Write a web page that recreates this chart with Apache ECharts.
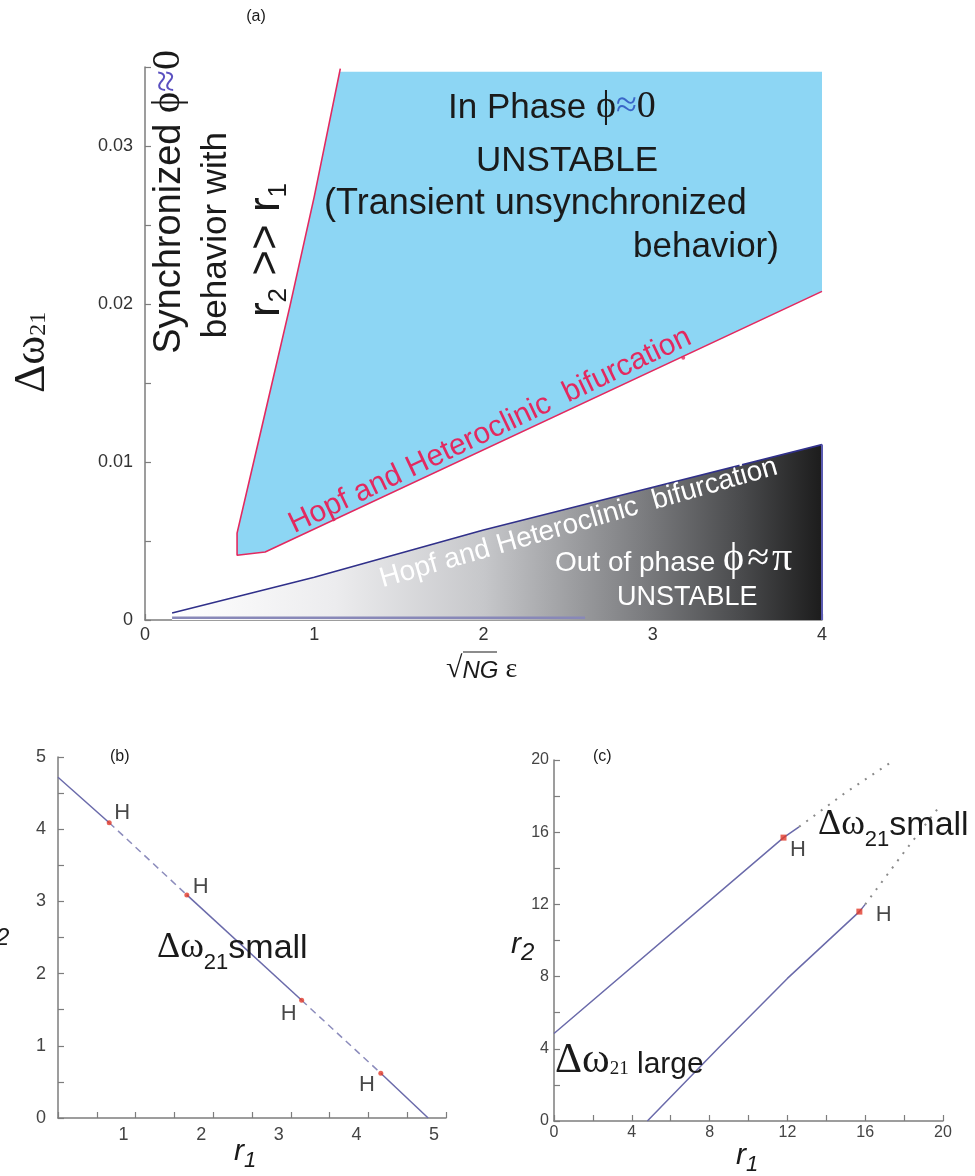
<!DOCTYPE html>
<html><head><meta charset="utf-8">
<script src="https://cdn.jsdelivr.net/npm/echarts@6/dist/echarts.min.js"></script>
<style>html,body{margin:0;padding:0;background:#fff}#c{width:975px;height:1176px}</style>
</head><body><div id="c"></div>
<script>
// ---------- DATA ----------
// Panel (a): in-phase unstable region (blue) polygon
const inPhaseX = [1.15, 4.0, 4.0, 0.71, 0.544, 0.544, 0.69, 0.855, 1.0];
const inPhaseY = [0.0347, 0.0347, 0.0208, 0.0043, 0.0041, 0.0055, 0.0122, 0.0198, 0.0268];
// Panel (a): red Hopf/heteroclinic boundary
const redBoundX = [1.154, 1.0, 0.855, 0.69, 0.544, 0.544, 0.71, 4.0];
const redBoundY = [0.0349, 0.0268, 0.0198, 0.0122, 0.0055, 0.0041, 0.0043, 0.0208];
const redMarkX = [3.18];
const redMarkY = [0.0166];
// Panel (a): out-of-phase unstable region (gradient) polygon
const outX = [0.16, 1.0, 2.0, 3.0, 4.0, 4.0, 0.16];
const outY = [0.00044, 0.0027, 0.0057, 0.0084, 0.0111, 0, 0];
const outBoundX = [0.16, 1.0, 2.0, 3.0, 4.0];
const outBoundY = [0.00044, 0.0027, 0.0057, 0.0084, 0.0111];
const outEdgeX = [4.0, 4.0];
const outEdgeY = [0, 0.0111];
const outBaseX = [0.16, 2.6];
const outBaseY = [0.00015, 0.00015];
const aXLabels = [0, 1, 2, 3, 4];
const aYLabels = [0, 0.01, 0.02, 0.03];

// Panel (b)
const bR1 = [0, 0.66, 1.66, 3.14, 4.16, 4.77];
const bR2 = [4.72, 4.09, 3.09, 1.63, 0.62, 0];
const bSegType = ['solid', 'dashed', 'solid', 'dashed', 'solid'];
const bHopfIdx = [1, 2, 3, 4];
const bXLabels = [1, 2, 3, 4, 5];
const bYLabels = [0, 1, 2, 3, 4, 5];

// Panel (c)
const c1SolidX = [0, 11.8, 12.6];
const c1SolidY = [4.85, 15.7, 16.3];
const c1DotX = [12.6, 15.0, 17.5];
const c1DotY = [16.3, 18.2, 20.0];
const c2SolidX = [4.8, 8.5, 12.0, 15.7, 16.0];
const c2SolidY = [0, 4.1, 7.9, 11.6, 12.0];
const c2DotX = [16.0, 18.0, 19.8];
const c2DotY = [12.0, 14.9, 17.4];
const cHX = [11.8, 15.7];
const cHY = [15.7, 11.6];
const cXLabels = [0, 4, 8, 12, 16, 20];
const cYLabels = [0, 4, 8, 12, 16, 20];

// ---------- STYLE ----------
const SANS = "'Liberation Sans', Arial, Helvetica, sans-serif";
const SERIF = "'Liberation Serif', 'DejaVu Serif', 'Times New Roman', serif";
const AX = '#7d7d7d';
const RED = '#e3295f';
const LINE = '#6a6aaa';
const ZT = 100;

const mctx = document.createElement('canvas').getContext('2d');
function fontStr(p){ return (p.italic ? 'italic ' : '') + p.size + 'px ' + (p.fam || SANS); }
function measure(p){ mctx.font = fontStr(p); return mctx.measureText(p.t).width; }
function run(x, y, rotDeg, parts, anchor, extra){
  const ws = parts.map(p => measure(p) + (p.gap || 0));
  const total = ws.reduce((a, b) => a + b, 0);
  let cx = anchor === 'center' ? -total / 2 : anchor === 'end' ? -total : 0;
  const children = parts.map((p, i) => {
    const el = {type: 'text', x: cx, y: (p.dy || 0) - 0.34 * p.size, silent: true, z: ZT,
      style: {text: p.t, font: fontStr(p), fill: p.fill || '#1a1a1a', align: 'left', verticalAlign: 'middle'}};
    cx += ws[i];
    return el;
  });
  return Object.assign({type: 'group', x: x, y: y, rotation: rotDeg * Math.PI / 180, silent: true, z: ZT, children: children}, extra || {});
}

function near(v, arr){ return arr.some(a => Math.abs(a - v) < 1e-9); }
function axisBase(){
  return {
    axisLine: {show: true, onZero: false, lineStyle: {color: AX, width: 1.5}},
    axisTick: {show: true, inside: true, length: 6, lineStyle: {color: AX, width: 1.2}},
    splitLine: {show: false},
  };
}
function valAxis(grid, min, max, interval, labels, fmt, labelOpts){
  return Object.assign(axisBase(), {
    type: 'value', gridIndex: grid, min: min, max: max, interval: interval,
    axisLabel: Object.assign({color: '#333', fontFamily: SANS, fontSize: 18,
      showMinLabel: true, showMaxLabel: true,
      formatter: v => near(v, labels) ? fmt(v) : ''}, labelOpts || {})
  });
}
function pts(xs, ys){ return xs.map((x, i) => [x, ys[i]]); }
function lineS(xs, ys, g, color, width, type, z){
  return {type: 'line', xAxisIndex: g, yAxisIndex: g, data: pts(xs, ys), symbol: 'none', silent: true,
    z: z || 3, lineStyle: {color: color, width: width, type: type || 'solid'}};
}
function polyS(xs, ys, g, fill, z){
  const data = pts(xs, ys);
  return {type: 'custom', xAxisIndex: g, yAxisIndex: g, encode: {x: 0, y: 1}, z: z || 1, silent: true, data: data,
    renderItem: function(params, api){
      if (params.dataIndex !== 0) return null;
      return {type: 'polygon', shape: {points: data.map(d => api.coord(d))}, style: {fill: fill}};
    }};
}

const series = [];
// Panel (a)
series.push(polyS(outX, outY, 0, new echarts.graphic.LinearGradient(0, 0, 1, 0, [
  {offset: 0, color: '#ffffff'}, {offset: 0.25, color: '#ececee'}, {offset: 0.48, color: '#c6c7ca'},
  {offset: 0.72, color: '#7d7e81'}, {offset: 0.88, color: '#48494b'}, {offset: 1, color: '#1c1c1c'}]), 1));
series.push(polyS(inPhaseX, inPhaseY, 0, '#8dd6f4', 1));
series.push(lineS(redBoundX, redBoundY, 0, RED, 1.6, 'solid', 3));
series.push(lineS(outBoundX, outBoundY, 0, '#30308a', 1.6, 'solid', 3));
series.push(lineS(outEdgeX, outEdgeY, 0, '#5a5ab0', 2, 'solid', 3));
series.push(lineS(outBaseX, outBaseY, 0, '#8888b8', 2.5, 'solid', 3));
series.push({type: 'scatter', xAxisIndex: 0, yAxisIndex: 0, data: pts(redMarkX, redMarkY), symbol: 'circle', symbolSize: 4,
  itemStyle: {color: RED}, silent: true, z: 4});

// Panel (b)
for (let i = 0; i < bSegType.length; i++) {
  const dashed = bSegType[i] === 'dashed';
  series.push(lineS([bR1[i], bR1[i + 1]], [bR2[i], bR2[i + 1]], 1, dashed ? '#8c8cbc' : LINE, 1.5, dashed ? [7, 5] : 'solid', 3));
}
const bLab = [
  {position: [7.5, -7], align: 'left'},
  {position: [8.5, -5], align: 'left'},
  {position: [-2.5, 16], align: 'right'},
  {position: [-3.5, 14.5], align: 'right'}
];
series.push({type: 'scatter', xAxisIndex: 1, yAxisIndex: 1, symbol: 'circle', symbolSize: 5, silent: true, z: 4,
  itemStyle: {color: '#e23b2a'},
  data: bHopfIdx.map((k, i) => ({value: [bR1[k], bR2[k]],
    label: {show: true, formatter: 'H', position: bLab[i].position, align: bLab[i].align, verticalAlign: 'middle',
      fontSize: 22, fontFamily: SANS, color: '#1a1a1a'}}))});

// Panel (c)
series.push(lineS(c1SolidX, c1SolidY, 2, LINE, 1.5, 'solid', 3));
series.push(lineS(c1DotX, c1DotY, 2, '#8a8a8a', 2, [2, 7], 3));
series.push(lineS(c2SolidX, c2SolidY, 2, LINE, 1.5, 'solid', 3));
series.push(lineS(c2DotX, c2DotY, 2, '#8a8a8a', 2, [2, 7], 3));
const cLab = [
  {position: [9.5, 15.5], align: 'left'},
  {position: [19.5, 6.5], align: 'left'}
];
series.push({type: 'scatter', xAxisIndex: 2, yAxisIndex: 2, symbol: 'rect', symbolSize: 6, silent: true, z: 4,
  itemStyle: {color: '#e23b2a'},
  data: cHX.map((x, i) => ({value: [x, cHY[i]],
    label: {show: true, formatter: 'H', position: cLab[i].position, align: cLab[i].align, verticalAlign: 'middle',
      fontSize: 22, fontFamily: SANS, color: '#1a1a1a'}}))});

const fmtA = v => v === 0 ? '0' : v.toFixed(2);
const fmtInt = v => String(Math.round(v));

const option = {
  animation: false,
  backgroundColor: '#ffffff',
  grid: [
    {left: 145, top: 67, width: 677, height: 553},
    {left: 58, top: 757, width: 388, height: 361},
    {left: 554, top: 760, width: 389, height: 361}
  ],
  xAxis: [
    valAxis(0, 0, 4, 0.5, aXLabels, fmtInt, {margin: 6}),
    valAxis(1, 0, 5, 0.5, bXLabels, fmtInt, {margin: 8, fontSize: 18, color: '#444', padding: [0, 24, 0, 0]}),
    valAxis(2, 0, 20, 2, cXLabels, fmtInt, {margin: 4, fontSize: 16, color: '#444'})
  ],
  yAxis: [
    valAxis(0, 0, 0.035, 0.005, aYLabels, fmtA, {margin: 12}),
    valAxis(1, 0, 5, 0.5, bYLabels, fmtInt, {margin: 12, fontSize: 18, color: '#444'}),
    valAxis(2, 0, 20, 2, cYLabels, fmtInt, {margin: 5, fontSize: 16, color: '#444'})
  ],
  series: series,
  graphic: {elements: [
    run(256, 22, 0, [{t: '(a)', size: 16}], 'center'),
    run(47, 393, 90, [{t: 'Δω', size: 44, fam: SERIF}, {t: '21', size: 24, fam: SERIF}], 'start'),
    run(182, 50, 90, [{t: 'Synchronized ', size: 38}, {t: 'ϕ', size: 40, fam: SERIF},
      {t: '≈', size: 40, fam: SERIF, fill: '#5a50c0'}, {t: '0', size: 40, fam: SERIF}], 'end'),
    run(228, 132, 90, [{t: 'behavior with', size: 35}], 'end'),
    run(282, 183, 90, [{t: 'r', size: 44}, {t: '2', size: 26, dy: 6}, {t: ' >> ', size: 44},
      {t: 'r', size: 44}, {t: '1', size: 26, dy: 6}], 'end'),
    run(448, 120, 0, [{t: 'In Phase ', size: 35}, {t: 'ϕ', size: 38, fam: SERIF},
      {t: '≈', size: 38, fam: SERIF, fill: '#3a66c8'}, {t: '0', size: 38, fam: SERIF}], 'start'),
    run(476, 173, 0, [{t: 'UNSTABLE', size: 35}], 'start'),
    run(324, 216, 0, [{t: '(Transient unsynchronized', size: 36}], 'start'),
    run(633, 259, 0, [{t: 'behavior)', size: 35}], 'start'),
    run(295, 535, 25.5, [{t: 'Hopf and Heteroclinic  bifurcation', size: 30, fill: RED}], 'start'),
    run(383, 589, 16, [{t: 'Hopf and Heteroclinic  bifurcation', size: 28, fill: '#ffffff'}], 'start'),
    run(555, 573, 0, [{t: 'Out of phase ', size: 28, fill: '#ffffff'}, {t: 'ϕ', size: 40, fam: SERIF, fill: '#ffffff', gap: 3},
      {t: '≈', size: 40, fam: SERIF, fill: '#ffffff', gap: 3}, {t: 'π', size: 40, fam: SERIF, fill: '#ffffff'}], 'start'),
    run(617, 607, 0, [{t: 'UNSTABLE', size: 27, fill: '#ffffff'}], 'start'),
    run(446, 679, 0, [{t: '√', size: 30, fam: SERIF}, {t: 'NG', size: 24, italic: true}, {t: ' ε', size: 28, fam: SERIF}], 'start'),
    {type: 'line', silent: true, z: ZT, shape: {x1: 463, y1: 652, x2: 497, y2: 652}, style: {stroke: '#1a1a1a', lineWidth: 1.2}},
    // panel (b)
    run(110, 762, 0, [{t: '(b)', size: 16}], 'start'),
    run(157, 960, 0, [{t: 'Δω', size: 36, fam: SERIF}, {t: '21', size: 22, dy: 10}, {t: 'small', size: 34}], 'start'),
    run(-14, 940, 0, [{t: 'r', size: 30, italic: true}, {t: '2', size: 24, italic: true, dy: 6}], 'start'),
    run(234, 1162, 0, [{t: 'r', size: 30, italic: true}, {t: '1', size: 22, italic: true, dy: 6}], 'start'),
    // panel (c)
    run(593, 762, 0, [{t: '(c)', size: 16}], 'start'),
    run(818, 837, 0, [{t: 'Δω', size: 36, fam: SERIF}, {t: '21', size: 22, dy: 10}, {t: 'small', size: 34}], 'start'),
    run(555, 1075, 0, [{t: 'Δω', size: 42, fam: SERIF}, {t: '21', size: 19, fam: SERIF}, {t: ' large', size: 30}], 'start'),
    run(511, 955, 0, [{t: 'r', size: 30, italic: true}, {t: '2', size: 24, italic: true, dy: 6}], 'start'),
    run(736, 1166, 0, [{t: 'r', size: 30, italic: true}, {t: '1', size: 22, italic: true, dy: 6}], 'start')
  ]}
};

const chart = echarts.init(document.getElementById('c'), null, {renderer: 'canvas', width: 975, height: 1176});
chart.setOption(option);
</script>
</body></html>
